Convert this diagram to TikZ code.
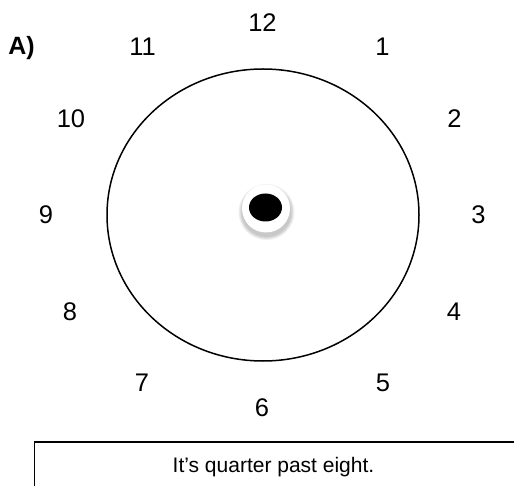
\documentclass[tikz,border=0pt]{standalone}
\usepackage{fontspec}
\setmainfont{Liberation Sans}

\begin{document}
\begin{tikzpicture}[x=1pt,y=-1pt,
  hour/.style={font=\fontsize{25.5}{30}\selectfont},
  face/.style={draw,line width=1.5pt}]
  \useasboundingbox (0,0) rectangle (514,486);
  \clip (0,0) rectangle (514,486);
  \node[font=\fontsize{25}{30}\selectfont\bfseries] (label) at (21.5,48) {A)};
  % clock face and hour numbers
  \draw[face] (263,215) ellipse [x radius=156, y radius=146];
  \foreach \h/\px/\py in {12/262.5/22.5,1/382.5/47,2/454.5/119,3/478.5/215,4/454/312,5/383/383,
                          6/262/408,7/142/383,8/70/312,9/46/215,10/71/119,11/142.5/47}
    \node[hour] (h\h) at (\px,\py) {\h};
  % centre pin with soft shadow
  \foreach \r in {28,27,26,25}
    \fill[black,opacity=.06] (266.5,212) circle [radius=\r];
  \node[circle,fill=white,minimum size=48pt,inner sep=0pt] (pin) at (266,208.5) {};
  \fill (265.5,207.5) ellipse [x radius=16.5, y radius=14];
  % answer box
  \node[font=\fontsize{21}{25}\selectfont] (answer) at (273.5,467) {It’s quarter past eight.};
  \draw[line width=1.6pt] (520,442) -- (34.5,442) -- (34.5,492);
\end{tikzpicture}
\end{document}
